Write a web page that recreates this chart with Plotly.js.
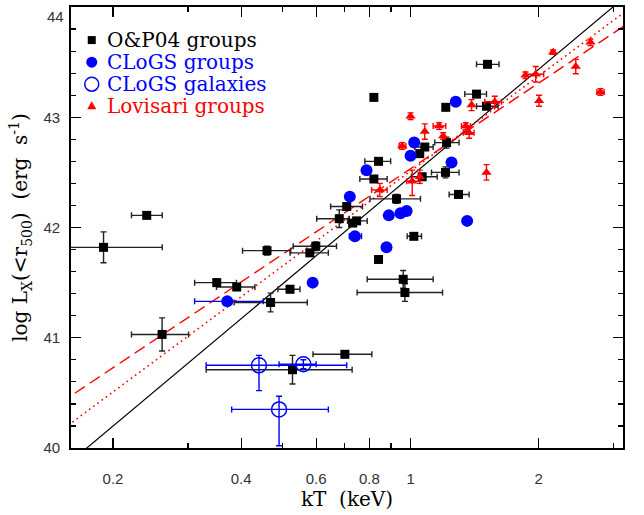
<!DOCTYPE html>
<html>
<head>
<meta charset="utf-8">
<script src="https://cdn.plot.ly/plotly-3.0.1.min.js"></script>
<style>
  html, body { margin: 0; padding: 0; background: #fff; }
  #chart { width: 644px; height: 515px; }
</style>
</head>
<body>
<div id="chart"></div>
<script>
// ---- O&P04 groups: kT (keV), log L_X, kT error bounds, log L_X error ----
const opKT   = [0.240, 0.190, 0.460, 0.599, 0.580, 0.680, 0.708, 0.731, 0.747, 0.820, 0.841,
                1.051, 1.080, 1.215, 1.208, 1.065, 1.296, 0.927, 1.018, 0.841, 0.961, 0.970,
                1.210, 1.429, 1.516, 1.508, 0.820, 0.3505, 0.3905, 0.469, 0.521, 0.2608, 0.528, 0.701];
const opLX   = [42.11, 41.82, 41.79, 41.83, 41.77, 42.08, 42.19, 42.04, 42.06, 42.44, 42.60,
                42.67, 42.73, 42.77, 42.50, 42.46, 42.30, 42.26, 41.92, 41.71, 41.53, 41.41,
                43.09, 43.21, 43.48, 43.10, 43.18, 41.50, 41.46, 41.32, 41.44, 41.03, 40.71, 40.85];
const opKTlo = [0.221, 0.150, 0.403, 0.530, 0.521, 0.602, 0.649, NaN, 0.711, 0.760, 0.781,
                NaN, 1.023, 1.140, 1.120, 1.005, 1.232, 0.803, 0.982, NaN, 0.791, 0.749,
                NaN, 1.341, 1.429, 1.429, NaN, 0.311, 0.350, 0.385, 0.488, 0.221, 0.331, 0.590];
const opKThi = [0.261, 0.261, 0.523, 0.670, 0.641, 0.718, 0.771, NaN, 0.791, 0.881, 0.898,
                NaN, 1.130, 1.300, 1.300, 1.155, 1.373, 1.055, 1.061, NaN, 1.130, 1.189,
                NaN, 1.508, 1.614, 1.605, NaN, 0.390, 0.431, 0.572, 0.550, 0.301, 0.729, 0.811];
const opLXerr = [NaN, 0.14, 0.04, 0.04, NaN, 0.08, 0.03, NaN, NaN, NaN, NaN,
                 NaN, 0.03, 0.05, 0.05, 0.03, NaN, 0.04, NaN, NaN, 0.08, 0.08,
                 NaN, NaN, NaN, NaN, NaN, 0.03, NaN, 0.085, 0.03, 0.15, 0.13, 0.03];

// ---- CLoGS groups ----
const cgKT   = [1.020, 1.000, 1.248, 0.788, 0.720, 0.889, 0.979, 0.947, 1.358, 0.740, 0.878, 0.589, 0.371, 1.277];
const cgLX   = [42.77, 42.65, 42.59, 42.52, 42.28, 42.11, 42.15, 42.13, 42.06, 41.92, 41.82, 41.50, 41.33, 43.14];
const cgKTlo = [NaN, NaN, NaN, NaN, NaN, NaN, NaN, NaN, NaN, 0.718, 0.860, NaN, 0.311, NaN];
const cgKThi = [NaN, NaN, NaN, NaN, NaN, NaN, NaN, NaN, NaN, 0.767, 0.900, NaN, 0.451, NaN];
const cgLXerr = [NaN, NaN, NaN, NaN, NaN, NaN, NaN, NaN, NaN, NaN, NaN, 0.03, NaN, NaN];

// ---- CLoGS galaxies ----
const cgalKT   = [0.4405, 0.560, 0.491];
const cgalLX   = [40.75, 40.76, 40.35];
const cgalKTlo = [0.331, 0.491, 0.380];
const cgalKThi = [0.708, 0.600, 0.641];
const cgalLXlo = [40.52, 40.72, 40.02];
const cgalLXhi = [40.84, 40.80, 40.47];

// ---- Lovisari groups ----
const lvKT   = [1.000, 1.080, 1.167, 1.348, 1.193, 1.373, 1.391, 1.577, 2.162, 2.646,
                1.862, 1.968, 2.444, 2.004, 2.793, 0.956, 1.508, 1.051, 1.009, 0.847];
const lvLX   = [43.01, 42.87, 42.92, 42.92, 42.83, 42.86, 43.11, 43.14, 43.59, 43.68,
                43.38, 43.39, 43.46, 43.15, 43.23, 42.74, 42.50, 42.46, 42.42, 42.34];
const lvKTlo = [NaN, NaN, 1.130, 1.317, NaN, 1.330, NaN, 1.494, NaN, NaN,
                NaN, 1.855, NaN, NaN, 2.740, 0.940, NaN, NaN, 0.979, 0.810];
const lvKThi = [NaN, NaN, 1.210, 1.383, NaN, 1.410, NaN, 1.635, NaN, NaN,
                NaN, 2.055, NaN, NaN, 2.850, 0.975, NaN, NaN, 1.051, 0.881];
const lvLXlo = [42.98, 42.80, 42.89, 42.89, 42.80, 42.81, 43.06, 43.09, 43.57, 43.65,
                43.35, 43.32, 43.395, 43.10, 43.20, 42.71, 42.43, 42.40, 42.29, 42.28];
const lvLXhi = [43.04, 42.94, 42.95, 42.95, 42.86, 42.91, 43.16, 43.19, 43.61, 43.71,
                43.41, 43.46, 43.525, 43.20, 43.26, 42.77, 42.57, 42.52, 42.52, 42.40];

// ---- fitted relations: log L_X = a + b log10(kT) ----
const fitNames = ['all', 'lovisariBCES', 'lovisariOrth'];
const fitA = [42.461, 42.533, 42.512];
const fitB = [3.236, 2.582, 2.866];
const fitSpan = [0.15, 3.4];

// ---- axis ticks ----
const xMajor = [0.2, 0.4, 0.6, 0.8, 1, 2];
const xMajorText = ['0.2', '0.4', '0.6', '0.8', '1', '2'];
const xMinor = [0.3, 0.5, 0.7, 0.9, 3];
const yMajor = [40, 41, 42, 43, 44];
const yMajorText = ['40', '41', '42', '43', ''];
const yTopLabel = '44';   // top label sits just inside the frame

const BLUE = '#0000ff', RED = '#ff0000', BLACK = '#000000';

function plusArr(v, hi) { return v.map((x, i) => hi[i] - x); }
function minusArr(v, lo) { return v.map((x, i) => x - lo[i]); }
function symArr(e) { return e.slice(); }

const errStyle = (c) => ({ color: c, thickness: 1.4, width: 3 });

const fitLine = (k, style) => ({
  type: 'scatter', mode: 'lines', hoverinfo: 'skip', showlegend: false,
  x: fitSpan,
  y: fitSpan.map(t => fitA[k] + fitB[k] * Math.log10(t)),
  line: style
});

const traces = [
  fitLine(0, { color: BLACK, width: 1.2 }),
  fitLine(1, { color: RED, width: 1.4, dash: '12px,6px' }),
  fitLine(2, { color: RED, width: 1.6, dash: '1.6px,3.6px' }),
  {
    type: 'scatter', mode: 'markers', name: 'O&P04 groups', showlegend: false,
    x: opKT, y: opLX,
    marker: { symbol: 'square', size: 9, color: BLACK },
    error_x: Object.assign({ type: 'data', symmetric: false,
      array: plusArr(opKT, opKThi), arrayminus: minusArr(opKT, opKTlo) }, errStyle('#222')),
    error_y: Object.assign({ type: 'data', symmetric: true, array: symArr(opLXerr) }, errStyle('#222'))
  },
  {
    type: 'scatter', mode: 'markers', name: 'CLoGS groups', showlegend: false,
    x: cgKT, y: cgLX,
    marker: { symbol: 'circle', size: 12, color: BLUE },
    error_x: Object.assign({ type: 'data', symmetric: false,
      array: plusArr(cgKT, cgKThi), arrayminus: minusArr(cgKT, cgKTlo) }, errStyle(BLUE)),
    error_y: Object.assign({ type: 'data', symmetric: true, array: symArr(cgLXerr) }, errStyle(BLUE))
  },
  {
    type: 'scatter', mode: 'markers', name: 'CLoGS galaxies', showlegend: false,
    x: cgalKT, y: cgalLX,
    marker: { symbol: 'circle-open', size: 15, color: BLUE, line: { width: 1.5, color: BLUE } },
    error_x: Object.assign({ type: 'data', symmetric: false,
      array: plusArr(cgalKT, cgalKThi), arrayminus: minusArr(cgalKT, cgalKTlo) }, errStyle(BLUE)),
    error_y: Object.assign({ type: 'data', symmetric: false,
      array: plusArr(cgalLX, cgalLXhi), arrayminus: minusArr(cgalLX, cgalLXlo) }, errStyle(BLUE))
  },
  {
    type: 'scatter', mode: 'markers', name: 'Lovisari groups', showlegend: false,
    x: lvKT, y: lvLX,
    marker: { symbol: 'triangle-up', size: 9, color: RED },
    error_x: Object.assign({ type: 'data', symmetric: false,
      array: plusArr(lvKT, lvKThi), arrayminus: minusArr(lvKT, lvKTlo) }, errStyle(RED)),
    error_y: Object.assign({ type: 'data', symmetric: false,
      array: plusArr(lvLX, lvLXhi), arrayminus: minusArr(lvLX, lvLXlo) }, errStyle(RED))
  }
];

// legend keys (symbols drawn as pixel-sized shapes) and coloured labels
const legendX = 0.0376, legendTextX = 0.0621;
const legendRows = [0.925, 0.8748, 0.825, 0.7758];
const legendLabels = ['O&amp;P04 groups', 'CLoGS groups', 'CLoGS galaxies', 'Lovisari groups'];
const legendColors = [BLACK, BLUE, BLUE, RED];

const keyBase = (row) => ({ xref: 'paper', yref: 'paper', xsizemode: 'pixel', ysizemode: 'pixel',
  xanchor: legendX, yanchor: legendRows[row], layer: 'above' });
const shapes = [
  Object.assign(keyBase(0), { type: 'rect', x0: -4, x1: 4, y0: -4, y1: 4, fillcolor: BLACK, line: { width: 0 } }),
  Object.assign(keyBase(1), { type: 'circle', x0: -5.5, x1: 5.5, y0: -5.5, y1: 5.5, fillcolor: BLUE, line: { width: 0 } }),
  Object.assign(keyBase(2), { type: 'circle', x0: -7, x1: 7, y0: -7, y1: 7, line: { color: BLUE, width: 1.5 } }),
  Object.assign(keyBase(3), { type: 'path', path: 'M-4.5,-3.5 L4.5,-3.5 L0,4.5 Z', fillcolor: RED, line: { width: 0 } })
];

const tickFont = { family: 'Liberation Sans, Arial, sans-serif', size: 15, color: '#333' };
const titleFont = { family: 'DejaVu Serif', size: 20, color: BLACK };

const annotations = legendLabels.map((t, i) => ({
  xref: 'paper', yref: 'paper', x: legendTextX, y: legendRows[i],
  xanchor: 'left', yanchor: 'middle', showarrow: false, text: t,
  font: { family: 'DejaVu Serif', size: 20, color: legendColors[i] }
}));
annotations.push({
  xref: 'paper', yref: 'paper', x: 0, y: 1, xanchor: 'right', yanchor: 'top',
  xshift: -5, yshift: 1, showarrow: false, text: yTopLabel, font: tickFont
});

const layout = {
  width: 644, height: 515,
  margin: { l: 71, r: 21, t: 7, b: 67 },
  paper_bgcolor: '#fff', plot_bgcolor: '#fff',
  showlegend: false,
  xaxis: {
    type: 'log', range: [-0.7977, 0.4991],
    tickmode: 'array', tickvals: xMajor, ticktext: xMajorText,
    ticks: 'inside', ticklen: 10, tickwidth: 1.2, tickcolor: BLACK,
    minor: { tickmode: 'array', tickvals: xMinor, ticks: 'inside', ticklen: 5, tickwidth: 1.2, tickcolor: BLACK },
    showline: true, linecolor: BLACK, linewidth: 1.8, mirror: 'ticks',
    showgrid: false, zeroline: false,
    tickfont: tickFont, ticklabelstandoff: 16,
    title: { text: 'kT  (keV)', font: titleFont, standoff: 4 }
  },
  yaxis: {
    range: [40, 44],
    tickmode: 'array', tickvals: yMajor, ticktext: yMajorText,
    ticks: 'inside', ticklen: 10, tickwidth: 1.2, tickcolor: BLACK,
    minor: { dtick: 0.2, ticks: 'inside', ticklen: 5, tickwidth: 1.2, tickcolor: BLACK },
    showline: true, linecolor: BLACK, linewidth: 1.8, mirror: 'ticks',
    showgrid: false, zeroline: false,
    tickfont: tickFont, ticklabelstandoff: 6,
    title: { text: 'log L<sub>X</sub>(&lt;r<sub>500</sub>)  (erg  s<sup>-1</sup>)', font: titleFont, standoff: 10 }
  },
  shapes: shapes,
  annotations: annotations
};

Plotly.newPlot('chart', traces, layout, { displayModeBar: false, staticPlot: true });
</script>
</body>
</html>
